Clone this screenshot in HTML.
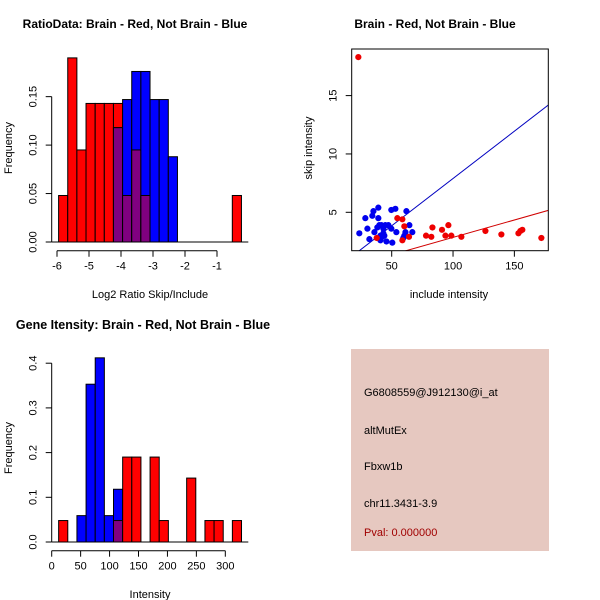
<!DOCTYPE html>
<html><head><meta charset="utf-8"><style>
body{margin:0;background:#fff}
svg{display:block;font-family:"Liberation Sans",sans-serif}
</style></head><body>
<svg id="s" width="600" height="600" viewBox="0 0 600 600">
<text x="135" y="28" font-size="12" font-weight="bold" text-anchor="middle">RatioData: Brain - Red, Not Brain - Blue</text>
<text x="435" y="28" font-size="12" font-weight="bold" text-anchor="middle">Brain - Red, Not Brain - Blue</text>
<text x="143" y="329" font-size="12.5" font-weight="bold" text-anchor="middle">Gene Itensity: Brain - Red, Not Brain - Blue</text>
<text x="150" y="298" font-size="11" text-anchor="middle">Log2 Ratio Skip/Include</text>
<text transform="translate(12,148) rotate(-90)" font-size="11" text-anchor="middle">Frequency</text>
<text x="449" y="298" font-size="11" text-anchor="middle">include intensity</text>
<text transform="translate(312,148) rotate(-90)" font-size="11" text-anchor="middle">skip intensity</text>
<text x="150" y="598" font-size="11" text-anchor="middle">Intensity</text>
<text transform="translate(12,448) rotate(-90)" font-size="11" text-anchor="middle">Frequency</text>
<g>
<rect x="351" y="349" width="198" height="202" fill="#e6c8c0"/>
<text x="364" y="396" font-size="11">G6808559@J912130@i_at</text>
<text x="364" y="434" font-size="11">altMutEx</text>
<text x="364" y="470" font-size="11">Fbxw1b</text>
<text x="364" y="507" font-size="11">chr11.3431-3.9</text>
<text x="364" y="536" font-size="11" fill="#a00000">Pval: 0.000000</text>
</g>
</svg>
<script>
// ---- Plot 1 data
const ratioRed=[0.048,0.19,0.095,0.143,0.143,0.143,0.143,0.048,0.095,0.048,0,0,0,0,0,0,0,0,0,0.048];
const ratioBlue=[0,0,0,0,0,0,0.118,0.147,0.176,0.176,0.147,0.147,0.088,0,0,0,0,0,0,0];
const ratioStart=-5.95, ratioWidth=0.2857;
const ratioXTicks=[-6,-5,-4,-3,-2,-1];
const ratioYTicks=[0,0.05,0.10,0.15];
const ratioYLabels=["0.00","0.05","0.10","0.15"];
// ---- Plot 2 data
const redX=[22.8,54.6,58.7,60.3,37.8,58.7,64.1,78,82.3,83.2,91,93.8,96.2,98.6,106.8,126.4,139.4,153.3,154.9,156.5,172];
const redY=[18.3,4.5,4.4,3.8,2.8,2.6,2.9,3.0,2.9,3.7,3.5,3.0,3.9,3.0,2.9,3.4,3.1,3.2,3.4,3.5,2.8];
const blueX=[23.6,28.5,30.2,31.8,34.2,35.1,35.9,38.3,39.1,39.1,39.9,40.8,40.8,41.6,42.4,43.2,43.2,44.8,45.7,47.3,49.7,49.7,50.5,53,53.8,60.3,62,61.2,64.4,66.8,44,59.5];
const blueY=[3.2,4.5,3.6,2.7,4.7,5.1,3.3,3.7,4.5,5.4,3.9,3.0,2.6,3.9,2.9,3.2,3.6,3.9,2.5,3.9,3.6,5.2,2.4,5.3,3.3,3.0,5.1,3.3,3.9,3.3,3.0,2.8];
const blueLine=[0.081,-0.2];
const redLine=[0.0298,-0.13];
const scXTicks=[50,100,150];
const scYTicks=[5,10,15];
// ---- Plot 3 data
const intRed=[0.048,0,0,0,0,0,0.048,0.19,0.19,0,0.19,0.048,0,0,0.143,0,0.048,0.048,0,0.048];
const intBlue=[0,0,0.059,0.353,0.412,0.059,0.118,0,0,0,0,0,0,0,0,0,0,0,0,0];
const intStart=12, intWidth=15.8;
const intXTicks=[0,50,100,150,200,250,300];
const intYTicks=[0,0.1,0.2,0.3,0.4];
const intYLabels=["0.0","0.1","0.2","0.3","0.4"];

const svg=document.getElementById('s');
const NS='http://www.w3.org/2000/svg';
function mk(tag,a){const e=document.createElementNS(NS,tag);for(const k in a)e.setAttribute(k,a[k]);svg.appendChild(e);return e;}

function hist(red,blue,start,w,sx,sy,base,left,right,pre){
  mk('line',{x1:left,y1:base,x2:right,y2:base,stroke:'#000'});
  for(let i=0;i<red.length;i++){
    const x0=sx(start+i*w),x1=sx(start+(i+1)*w);
    const r=red[i],b=blue[i];
    if(r>0){const e=mk('rect',{x:x0,y:sy(r),width:x1-x0,height:sy(0)-sy(r),fill:'#ff0000',stroke:'#000'});
      
      }
    if(b>0){const e=mk('rect',{x:x0,y:sy(b),width:x1-x0,height:sy(0)-sy(b),fill:'#0000ff',stroke:'#000'});
      
      }
    const m=Math.min(r,b);
    if(m>0){const e=mk('rect',{x:x0,y:sy(m),width:x1-x0,height:sy(0)-sy(m),fill:'#800080',stroke:'#000'});
      
      }
  }
}
function xaxis(ticks,labels,sx,y,pre){
  mk('line',{x1:sx(ticks[0]),y1:y,x2:sx(ticks[ticks.length-1]),y2:y,stroke:'#000'});
  ticks.forEach((t,i)=>{mk('line',{x1:sx(t),y1:y,x2:sx(t),y2:y+6,stroke:'#000'});
    const e=mk('text',{x:sx(t),y:y+19,'font-size':11,'text-anchor':'middle'});e.textContent=labels[i];
    
    });
}
function yaxis(ticks,labels,sy,x,pre){
  mk('line',{x1:x,y1:sy(ticks[0]),x2:x,y2:sy(ticks[ticks.length-1]),stroke:'#000'});
  ticks.forEach((t,i)=>{mk('line',{x1:x,y1:sy(t),x2:x-6,y2:sy(t),stroke:'#000'});
    const e=mk('text',{transform:`translate(${x-15},${sy(t)}) rotate(-90)`,'font-size':11,'text-anchor':'middle'});e.textContent=labels[i];
    
    });
}
// Plot 1
const sx1=v=>57+(v+6)*32, sy1=v=>242-v*969;
hist(ratioRed,ratioBlue,ratioStart,ratioWidth,sx1,sy1,242,51.7,248.3,'ratio');
xaxis(ratioXTicks,ratioXTicks.map(String),sx1,250.7,'ratio');
yaxis(ratioYTicks,ratioYLabels,sy1,51.7,'ratio');
// Plot 2
const sx2=v=>391.7+(v-50)*1.2267, sy2=v=>212.3-(v-5)*11.67;
const L=351.7,R=548.3,T=49,B=250.7;
const cp=document.createElementNS(NS,'clipPath');cp.setAttribute('id','c2');
const cr=document.createElementNS(NS,'rect');cr.setAttribute('x',L);cr.setAttribute('y',T);cr.setAttribute('width',R-L);cr.setAttribute('height',B-T);cp.appendChild(cr);svg.appendChild(cp);
[[blueLine,'#0000c0','blue-fit-line'],[redLine,'#d00000','red-fit-line']].forEach(([ln,c,n])=>{
  const xa=0,xb=200;
  const e=mk('line',{x1:sx2(xa),y1:sy2(ln[0]*xa+ln[1]),x2:sx2(xb),y2:sy2(ln[0]*xb+ln[1]),stroke:c,'clip-path':'url(#c2)'});
  
  });
blueX.forEach((x,i)=>{const e=mk('circle',{cx:sx2(x),cy:sy2(blueY[i]),r:3.1,fill:'#0000ee'});
  
  });
redX.forEach((x,i)=>{const e=mk('circle',{cx:sx2(x),cy:sy2(redY[i]),r:3.1,fill:'#ee0000'});
  
  });
mk('rect',{x:L,y:T,width:R-L,height:B-T,fill:'none',stroke:'#000'});
scXTicks.forEach(t=>{mk('line',{x1:sx2(t),y1:B,x2:sx2(t),y2:B+6,stroke:'#000'});
  const e=mk('text',{x:sx2(t),y:B+19,'font-size':11,'text-anchor':'middle'});e.textContent=t;
  
  });
scYTicks.forEach(t=>{mk('line',{x1:L,y1:sy2(t),x2:L-6,y2:sy2(t),stroke:'#000'});
  const e=mk('text',{transform:`translate(${L-15},${sy2(t)}) rotate(-90)`,'font-size':11,'text-anchor':'middle'});e.textContent=t;
  
  });
// Plot 3
const sx3=v=>51.7+v*0.5787, sy3=v=>542-v*447;
hist(intRed,intBlue,intStart,intWidth,sx3,sy3,542,51.7,248.3,'intensity');
xaxis(intXTicks,intXTicks.map(String),sx3,550.7,'intensity');
yaxis(intYTicks,intYLabels,sy3,51.7,'intensity');
</script>
</body></html>
